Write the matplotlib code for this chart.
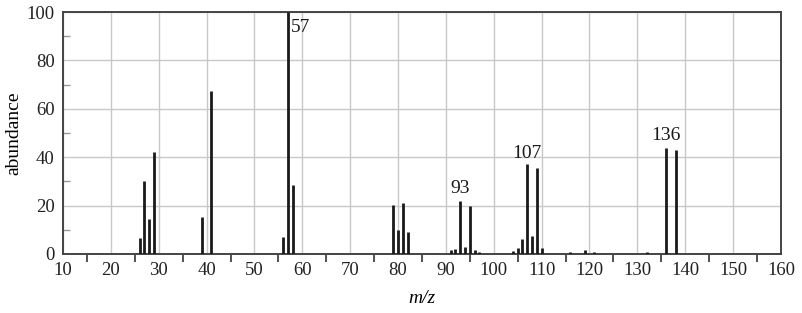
import numpy as np
import matplotlib.pyplot as plt
from matplotlib.ticker import MultipleLocator

# mass spectrum peaks (m/z, relative abundance)
mz = [26, 27, 28, 29, 39, 41, 56, 57, 58,
      79, 80, 81, 82,
      91, 92, 93, 94, 95, 96, 97,
      104, 105, 106, 107, 108, 109, 110,
      116, 119, 121, 132, 136, 138]
abundance = [6.5, 30, 14.3, 42, 15.4, 67.4, 7, 100, 28.4,
             20.2, 9.9, 21.2, 9.2,
             1.6, 2, 21.7, 2.7, 19.8, 1.5, 0.8,
             1.1, 2.5, 6.2, 37, 7.6, 35.4, 2.5,
             0.8, 1.5, 0.8, 0.8, 43.7, 43.1]

# labelled peaks: text, x, y
peak_labels = ['57', '93', '107', '136']
label_x = [57.7, 93, 107, 136]
label_y = [93.5, 27, 41.5, 49]
label_ha = ['left', 'center', 'center', 'center']

plt.rcParams['font.family'] = ['Liberation Serif', 'DejaVu Serif']

fig = plt.figure(figsize=(8.03, 3.13), dpi=100)
ax = fig.add_axes([0.0785, 0.1885, 0.894, 0.773])

ax.vlines(mz, 0, abundance, color='#1a1a1a', linewidth=2, zorder=3)

for txt, x, y, ha in zip(peak_labels, label_x, label_y, label_ha):
    ax.text(x, y, txt, ha=ha, va='center', fontsize=14, color='#1a1a1a')

ax.set_xlim(10, 160)
ax.set_ylim(0, 100)
ax.xaxis.set_major_locator(MultipleLocator(10))
ax.xaxis.set_minor_locator(plt.FixedLocator(np.arange(15, 160, 10)))
ax.yaxis.set_major_locator(MultipleLocator(20))
ax.yaxis.set_minor_locator(plt.FixedLocator(np.arange(10, 100, 20)))

ax.grid(True, which='major', color='#c8c8c8', linewidth=1, zorder=0)
ax.tick_params(axis='both', which='major', length=0, labelsize=13.5, pad=6, colors='#222222')
ax.tick_params(axis='x', which='minor', direction='out', length=6, width=1.2, color='#333333')
ax.tick_params(axis='y', which='minor', direction='in', length=5, width=1, color='#999999')

for s in ax.spines.values():
    s.set_linewidth(1.4)
    s.set_color('#444444')

ax.set_xlabel('m/z', fontsize=14, style='italic', labelpad=8)
ax.set_ylabel('abundance', fontsize=14, labelpad=3)

fig.savefig('out.png', dpi=100)
